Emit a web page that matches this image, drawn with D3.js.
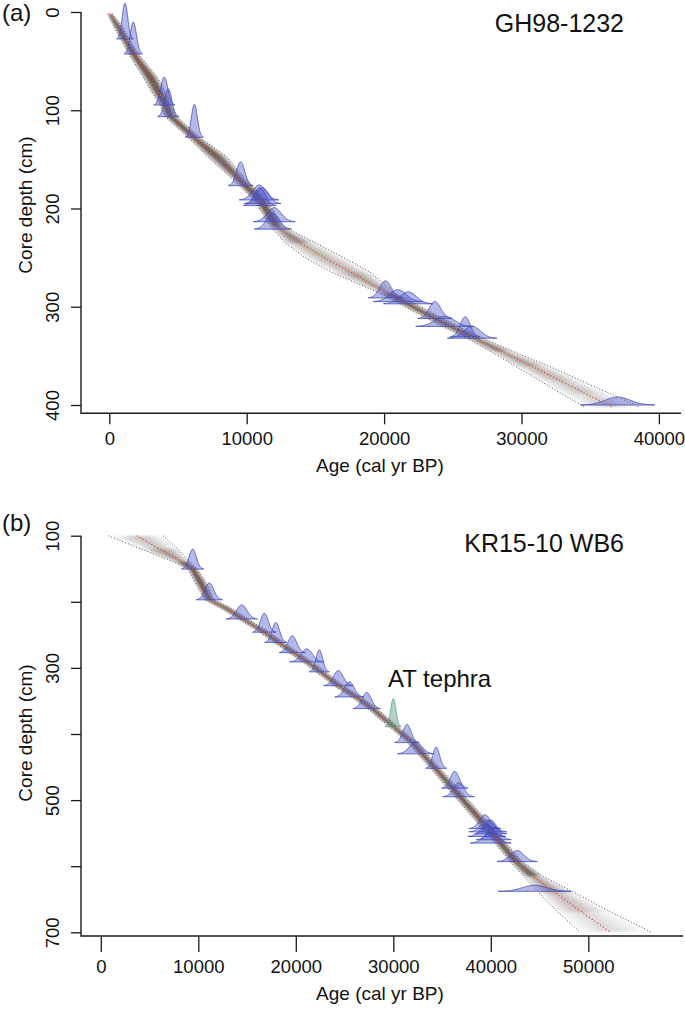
<!DOCTYPE html>
<html>
<head>
<meta charset="utf-8">
<script src="https://cdn.jsdelivr.net/npm/d3@7/dist/d3.min.js"></script>
<style>
  body { margin: 0; background: #fff; }
  svg { display: block; font-family: "Liberation Sans", Arial, Helvetica, sans-serif; }
</style>
</head>
<body>
<svg id="chart" width="685" height="1010"></svg>
<script>
// ---------------- DATA : (a) GH98-1232 ----------------
const ghDepth = [2, 15, 30, 45, 66, 80, 96, 106, 113, 127, 147, 171, 191, 205, 218, 235, 250, 265, 286, 300, 312, 322, 332, 345, 360, 375, 390, 402];
const ghMean  = [50, 650, 1240, 1880, 2960, 3530, 4150, 4450, 5000, 6110, 7820, 9510, 10970, 11600, 12180, 13900, 15650, 17600, 20200, 22100, 23700, 25100, 26600, 28500, 30700, 32800, 34900, 36600];
const ghMin   = [-100, 350, 940, 1530, 2460, 3030, 3750, 4050, 4600, 5710, 7150, 9060, 10520, 11150, 11730, 12800, 14250, 16200, 19650, 21550, 23150, 24550, 26050, 27700, 29500, 31300, 33100, 34600];
const ghMax   = [200, 950, 1540, 2230, 3460, 4030, 4550, 4850, 5400, 6510, 8500, 9960, 11420, 12050, 12630, 15000, 17050, 19000, 20750, 22650, 24250, 25650, 27150, 29300, 31900, 34300, 36700, 38600];

// calibrated dates: depth (cm), age (cal yr BP), spread (yr)
const ghDateDepth = [27.5, 42.7, 94.7, 106.5, 127.5, 176.8, 191.3, 195, 197, 213.5, 221, 291, 294.8, 297, 312, 320, 330.5, 332, 400];
const ghDateAge   = [1140, 1750, 4000, 4290, 6190, 9560, 10900, 11150, 10950, 12000, 11900, 20100, 21000, 21750, 23700, 24400, 25900, 26400, 37000];
const ghDateSd    = [200, 225, 257, 257, 218, 300, 480, 450, 400, 510, 450, 420, 600, 600, 420, 700, 360, 600, 900];

const ghXTicks = [0, 10000, 20000, 30000, 40000];
const ghYTicks = [0, 100, 200, 300, 400];

// ---------------- DATA : (b) KR15-10 WB6 ----------------
const krDepth = [100, 120, 140, 150, 170, 197, 210, 226, 246, 262, 277, 291, 306, 327, 344, 362, 375, 389, 413, 430, 452, 482, 495, 520, 545, 565, 593, 615, 640, 670, 700];
const krMean  = [3680, 6020, 8360, 9400, 10200, 11150, 12900, 14600, 16800, 18300, 19800, 21200, 22550, 24400, 26200, 27900, 28900, 30050, 31950, 32970, 34300, 36100, 36850, 38350, 39800, 41000, 42600, 44300, 46600, 49400, 52300];
const krMin   = [780, 4100, 7600, 8950, 9650, 10700, 12400, 14150, 16350, 17850, 19350, 20750, 22100, 23950, 25750, 27450, 28450, 29650, 31500, 32520, 33850, 35600, 36350, 37800, 39300, 40450, 42000, 43400, 44900, 46900, 49200];
const krMax   = [6380, 7900, 9100, 9850, 10750, 11600, 13400, 15050, 17250, 18750, 20250, 21650, 23000, 24850, 26650, 28350, 29350, 30450, 32400, 33420, 34750, 36600, 37350, 38900, 40300, 41550, 43200, 45300, 48600, 52400, 56500];

const krDateDepth = [150.5, 197, 226, 246, 261.5, 277, 291, 306, 327, 344, 361.5, 413, 430, 452, 482, 495, 543, 548, 551, 555, 560, 565, 593, 638];
const krDateAge   = [9420, 11130, 14450, 16770, 17950, 19640, 21120, 22410, 24360, 25490, 27270, 31400, 32300, 34400, 36300, 36700, 39400, 39700, 40000, 39600, 40300, 40000, 42700, 44500];
const krDateSd    = [380, 450, 540, 400, 380, 450, 580, 345, 500, 500, 470, 420, 630, 360, 450, 540, 550, 650, 550, 650, 600, 700, 690, 1250];

// AT tephra marker
const tephraDepth = [389];
const tephraAge   = [30000];
const tephraSd    = [270];

const krXTicks = [0, 10000, 20000, 30000, 40000, 50000];
const krYTicks = [100, 200, 300, 400, 500, 600, 700];
const krYLabels = [100, 300, 500, 700];

// ---------------- SETUP ----------------
const svg = d3.select("#chart");
const defs = svg.append("defs");
defs.append("filter").attr("id", "soft")
  .attr("x", "-10%").attr("y", "-10%").attr("width", "120%").attr("height", "120%")
  .append("feGaussianBlur").attr("stdDeviation", 1.3);

const axisColor = "#1a1a1a";

function drawPanel(p) {
  const g = svg.append("g");
  const x = p.x, y = p.y;

  // ---- grey model cloud (nested bands per depth segment) ----
  const cloud = g.append("g").attr("filter", "url(#soft)");
  const levels = 12;
  for (let i = 0; i < p.depth.length - 1; i++) {
    const w = ((x(p.max[i]) - x(p.min[i])) + (x(p.max[i + 1]) - x(p.min[i + 1]))) / 2;
    const dark = Math.max(0.12, Math.min(0.85, p.cloudK / w));
    const alpha = 1 - Math.pow(1 - dark, 1 / levels);
    for (let k = 1; k <= levels; k++) {
      const f = k / levels;
      const pts = [
        [x(p.mean[i] - f * (p.mean[i] - p.min[i])), y(p.depth[i])],
        [x(p.mean[i] + f * (p.max[i] - p.mean[i])), y(p.depth[i])],
        [x(p.mean[i + 1] + f * (p.max[i + 1] - p.mean[i + 1])), y(p.depth[i + 1])],
        [x(p.mean[i + 1] - f * (p.mean[i + 1] - p.min[i + 1])), y(p.depth[i + 1])]
      ];
      cloud.append("path")
        .attr("d", d3.line()(pts) + "Z")
        .attr("fill", "#3b2e29")
        .attr("fill-opacity", alpha);
    }
  }

  // ---- dated densities ----
  function drawDates(depths, ages, sds, fill, stroke) {
    depths.forEach((dep, i) => {
      const mu = ages[i], sd = sds[i];
      const a = d3.range(mu - 3 * sd, mu + 3 * sd + 1, sd / 12);
      const pdf = t => Math.exp(-0.5 * ((t - mu) / sd) ** 2) / (sd * Math.sqrt(2 * Math.PI));
      const area = d3.area()
        .x(t => x(t))
        .y0(y(dep))
        .y1(t => y(dep) - p.dens(pdf(t)))
        .curve(d3.curveBasis);
      g.append("path")
        .attr("d", area(a))
        .attr("fill", fill)
        .attr("fill-opacity", 0.4);
      g.append("path")
        .attr("d", area.lineY1()(a))
        .attr("fill", "none")
        .attr("stroke", stroke)
        .attr("stroke-opacity", 0.75)
        .attr("stroke-width", 1);
      g.append("line")
        .attr("x1", x(mu - 3 * sd)).attr("x2", x(mu + 3 * sd))
        .attr("y1", y(dep)).attr("y2", y(dep))
        .attr("stroke", stroke)
        .attr("stroke-opacity", 0.75)
        .attr("stroke-width", 1);
    });
  }
  drawDates(p.dDepth, p.dAge, p.dSd, "#4650c8", "#3c47b5");
  if (p.teph) drawDates(p.teph.depth, p.teph.age, p.teph.sd, "#3f8c78", "#5a9a88");

  // ---- range and mean lines ----
  const line = key => d3.line()
    .x((d, i) => x(p[key][i]))
    .y(d => y(d));
  g.append("path").attr("d", line("min")(p.depth))
    .attr("fill", "none").attr("stroke", "#555").attr("stroke-width", 1)
    .attr("stroke-dasharray", "1,2");
  g.append("path").attr("d", line("max")(p.depth))
    .attr("fill", "none").attr("stroke", "#555").attr("stroke-width", 1)
    .attr("stroke-dasharray", "1,2");
  g.append("path").attr("d", line("mean")(p.depth))
    .attr("fill", "none").attr("stroke", "#e4572e").attr("stroke-width", 1.2)
    .attr("stroke-dasharray", "1.2,2.2");

  // ---- axes ----
  const ax = g.append("g")
    .attr("transform", `translate(0,${p.xAxisY})`)
    .call(d3.axisBottom(x).tickValues(p.xTicks).tickFormat(d3.format("d"))
      .tickSize(p.xTickLen).tickPadding(p.xPad));
  ax.select(".domain").remove();
  ax.selectAll("line").attr("stroke", axisColor).attr("stroke-width", 1.3);
  ax.selectAll("text").attr("fill", "#111").style("font-size", "18.5px")
    .style("font-family", "Liberation Sans, Arial, sans-serif");

  const ay = g.append("g")
    .attr("transform", `translate(${p.yAxisX},0)`)
    .call(d3.axisLeft(y).tickValues(p.yTicks).tickSize(10)
      .tickFormat(d => p.yLabels.includes(d) ? d : ""));
  ay.select(".domain").remove();
  ay.selectAll("line").attr("stroke", axisColor).attr("stroke-width", 1.3);
  ay.selectAll("text")
    .attr("x", null).attr("dy", null)
    .attr("transform", "translate(-22,0) rotate(-90)")
    .attr("text-anchor", "middle")
    .attr("fill", "#111").style("font-size", "18.5px")
    .style("font-family", "Liberation Sans, Arial, sans-serif");

  g.append("path")
    .attr("d", `M${p.yAxisX},${y(p.yTicks[0])}V${p.xAxisY}H${p.xAxisEnd}`)
    .attr("fill", "none").attr("stroke", axisColor).attr("stroke-width", 1.4);

  // ---- labels ----
  g.append("text")
    .attr("x", 380).attr("y", p.xTitleY)
    .attr("text-anchor", "middle")
    .style("font-size", "19px").attr("fill", "#111")
    .text("Age (cal yr BP)");
  g.append("text")
    .attr("transform", `translate(32,${p.yTitleY}) rotate(-90)`)
    .attr("text-anchor", "middle")
    .style("font-size", "19px").attr("fill", "#111")
    .text("Core depth (cm)");
  g.append("text")
    .attr("x", 2).attr("y", p.tagY)
    .style("font-size", "24px").attr("fill", "#111")
    .text(p.tag);
  g.append("text")
    .attr("x", 624).attr("y", p.titleY)
    .attr("text-anchor", "end")
    .style("font-size", "25px").attr("fill", "#111")
    .text(p.title);
}

// ---------------- PANEL (a) ----------------
drawPanel({
  x: d3.scaleLinear().domain([0, 40000]).range([109.3, 658.9]),
  y: d3.scaleLinear().domain([0, 400]).range([12, 405]),
  dens: d3.scaleLinear().domain([0, 0.002]).range([0, 36]),
  depth: ghDepth, mean: ghMean, min: ghMin, max: ghMax,
  dDepth: ghDateDepth, dAge: ghDateAge, dSd: ghDateSd,
  xTicks: ghXTicks, yTicks: ghYTicks, yLabels: ghYTicks,
  cloudK: 12,
  xAxisY: 413.3, xTickLen: 11, xPad: 7.7, xAxisEnd: 681,
  yAxisX: 81,
  xTitleY: 472, yTitleY: 205,
  tag: "(a)", tagY: 20.7,
  title: "GH98-1232", titleY: 31.7
});

// ---------------- PANEL (b) ----------------
drawPanel({
  x: d3.scaleLinear().domain([0, 50000]).range([100.8, 588.3]),
  y: d3.scaleLinear().domain([100, 700]).range([535.7, 932.3]),
  dens: d3.scaleLinear().domain([0, 0.001]).range([0, 19.05]),
  depth: krDepth, mean: krMean, min: krMin, max: krMax,
  dDepth: krDateDepth, dAge: krDateAge, dSd: krDateSd,
  teph: { depth: tephraDepth, age: tephraAge, sd: tephraSd },
  xTicks: krXTicks, yTicks: krYTicks, yLabels: krYLabels,
  cloudK: 12,
  xAxisY: 936, xTickLen: 16, xPad: 7.6, xAxisEnd: 683,
  yAxisX: 81,
  xTitleY: 1000, yTitleY: 733,
  tag: "(b)", tagY: 531,
  title: "KR15-10 WB6", titleY: 551.7
});

svg.append("text")
  .attr("x", 388).attr("y", 687)
  .style("font-size", "24px").attr("fill", "#111")
  .text("AT tephra");
</script>
</body>
</html>
